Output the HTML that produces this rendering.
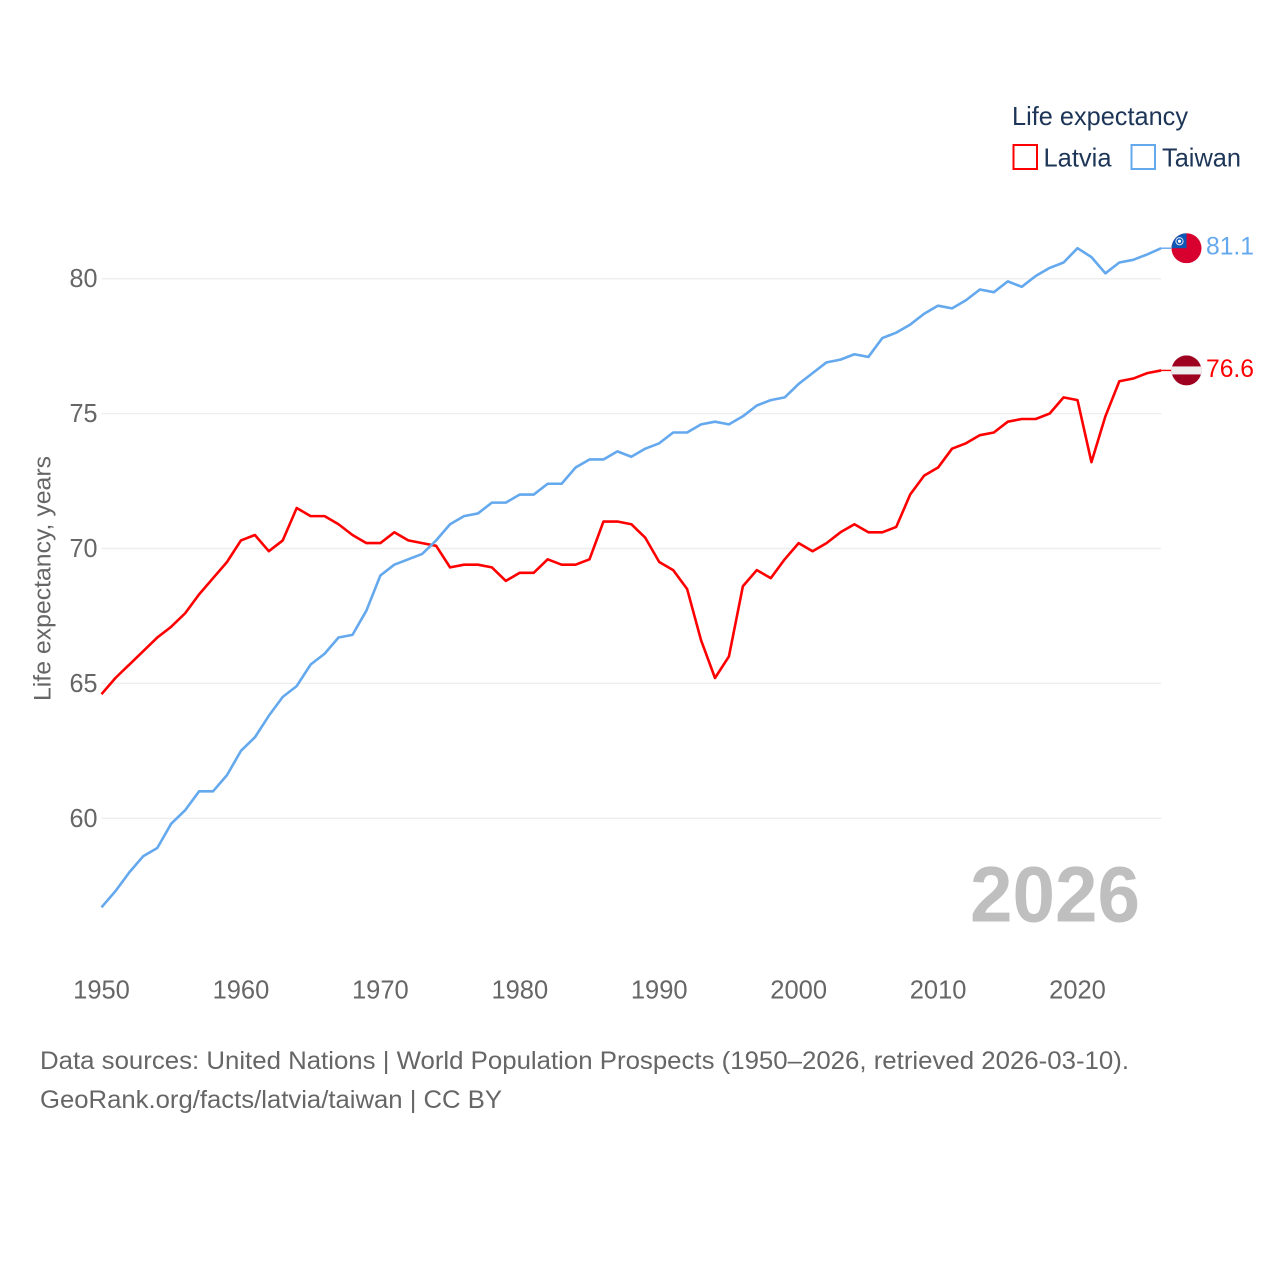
<!DOCTYPE html>
<html lang="en">
<head>
<meta charset="utf-8">
<title>Life expectancy: Latvia and Taiwan</title>
<style>
html,body{margin:0;padding:0;background:#fff;width:1280px;height:1280px;overflow:hidden}
svg{display:block;font-family:"Liberation Sans",sans-serif}
</style>
</head>
<body>
<svg id="chart" xmlns="http://www.w3.org/2000/svg" width="1280" height="1280" viewBox="0 0 1280 1280">
  <rect width="1280" height="1280" fill="#fff"/>
  <g id="grid"></g>
  <g id="yticks"></g>
  <g id="xticks"></g>
  <text transform="translate(50.5,701) rotate(-90)" font-size="24" fill="#666" textLength="245" lengthAdjust="spacingAndGlyphs">Life expectancy, years</text>

  <text x="970" y="921.5" font-size="79" font-weight="700" fill="#bfbfbf" textLength="170" lengthAdjust="spacingAndGlyphs">2026</text>

  <path id="line-latvia" fill="none" stroke="#ff0000" stroke-width="2.6" stroke-linejoin="round"/>
  <path id="line-taiwan" fill="none" stroke="#64a8ee" stroke-width="2.6" stroke-linejoin="round"/>
  <path id="lead-latvia" fill="none" stroke="#ff0000" stroke-width="1.4"/>
  <path id="lead-taiwan" fill="none" stroke="#64a8ee" stroke-width="1.4"/>

  <g id="flag-taiwan">
    <clipPath id="clip-tw"><circle cx="0" cy="0" r="15"/></clipPath>
    <g clip-path="url(#clip-tw)">
      <rect x="-15" y="-15" width="30" height="30" fill="#d7002f"/>
      <rect x="-15" y="-15" width="15" height="15" fill="#0f57b5"/>
      <circle cx="-7" cy="-7" r="3.6" fill="none" stroke="#dfe9f7" stroke-width="1"/>
      <circle cx="-7" cy="-7" r="1.6" fill="#fff"/>
    </g>
  </g>
  <g id="flag-latvia">
    <clipPath id="clip-lv"><circle cx="0" cy="0" r="15"/></clipPath>
    <g clip-path="url(#clip-lv)">
      <rect x="-15" y="-15" width="30" height="30" fill="#9e0020"/>
      <rect x="-15" y="-4" width="30" height="8" fill="#eee"/>
    </g>
  </g>
  <text id="value-taiwan" x="1206" font-size="25" fill="#64a8ee" textLength="48" lengthAdjust="spacingAndGlyphs"></text>
  <text id="value-latvia" x="1206" font-size="25" fill="#ff0000" textLength="48" lengthAdjust="spacingAndGlyphs"></text>

  <g>
    <text x="1012" y="125" font-size="26" fill="#1d3557" textLength="176" lengthAdjust="spacingAndGlyphs">Life expectancy</text>
    <g>
      <rect x="1013.5" y="145" width="23.5" height="24" fill="#fff" stroke="#ff0000" stroke-width="2"/>
      <text x="1043.5" y="166.5" font-size="26" fill="#1d3557" textLength="68" lengthAdjust="spacingAndGlyphs">Latvia</text>
    </g>
    <g>
      <rect x="1131.5" y="145" width="23.5" height="24" fill="#fff" stroke="#64a8ee" stroke-width="2"/>
      <text x="1162" y="166.5" font-size="26" fill="#1d3557" textLength="79" lengthAdjust="spacingAndGlyphs">Taiwan</text>
    </g>
  </g>

  <text x="40" y="1069" font-size="25" fill="#666" textLength="1089" lengthAdjust="spacingAndGlyphs">Data sources: United Nations | World Population Prospects (1950–2026, retrieved 2026-03-10).</text>
  <text x="40" y="1108" font-size="25" fill="#666" textLength="462" lengthAdjust="spacingAndGlyphs">GeoRank.org/facts/latvia/taiwan | CC BY</text>
</svg>
<script>
var startYear = 1950;
var latvia = [64.6,65.2,65.7,66.2,66.7,67.1,67.6,68.3,68.9,69.5,70.3,70.5,69.9,70.3,71.5,71.2,71.2,70.9,70.5,70.2,70.2,70.6,70.3,70.2,70.1,69.3,69.4,69.4,69.3,68.8,69.1,69.1,69.6,69.4,69.4,69.6,71.0,71.0,70.9,70.4,69.5,69.2,68.5,66.6,65.2,66.0,68.6,69.2,68.9,69.6,70.2,69.9,70.2,70.6,70.9,70.6,70.6,70.8,72.0,72.7,73.0,73.7,73.9,74.2,74.3,74.7,74.8,74.8,75.0,75.6,75.5,73.2,74.9,76.2,76.3,76.5,76.6];
var taiwan = [56.7,57.3,58.0,58.6,58.9,59.8,60.3,61.0,61.0,61.6,62.5,63.0,63.8,64.5,64.9,65.7,66.1,66.7,66.8,67.7,69.0,69.4,69.6,69.8,70.3,70.9,71.2,71.3,71.7,71.7,72.0,72.0,72.4,72.4,73.0,73.3,73.3,73.6,73.4,73.7,73.9,74.3,74.3,74.6,74.7,74.6,74.9,75.3,75.5,75.6,76.1,76.5,76.9,77.0,77.2,77.1,77.8,78.0,78.3,78.7,79.0,78.9,79.2,79.6,79.5,79.9,79.7,80.1,80.4,80.6,81.13,80.8,80.2,80.6,80.7,80.9,81.13];
var yTicks = [60,65,70,75,80];
var xTicks = [1950,1960,1970,1980,1990,2000,2010,2020];

var NS = 'http://www.w3.org/2000/svg';
function xScale(year){ return 101.5 + (year - 1950) * 13.943; }
function yScale(v){ return 818.3 - (v - 60) * 26.98; }

function linePath(values){
  var d = '';
  for (var i = 0; i < values.length; i++) {
    d += (i ? 'L' : 'M') + xScale(startYear + i).toFixed(2) + ' ' + yScale(values[i]).toFixed(2);
  }
  return d;
}

var gridG = document.getElementById('grid');
var yG = document.getElementById('yticks');
var xG = document.getElementById('xticks');
var lastYear = startYear + latvia.length - 1;

yTicks.forEach(function(t){
  var l = document.createElementNS(NS, 'line');
  
  
  l.setAttribute('x1', xScale(startYear));
  l.setAttribute('x2', xScale(lastYear));
  l.setAttribute('y1', yScale(t));
  l.setAttribute('y2', yScale(t));
  l.setAttribute('stroke', '#eeeeee');
  l.setAttribute('stroke-width', '1.4');
  gridG.appendChild(l);

  var s = document.createElementNS(NS, 'text');
  
  
  s.setAttribute('x', 97.5);
  s.setAttribute('y', yScale(t) + 8.5);
  s.setAttribute('text-anchor', 'end');
  s.setAttribute('font-size', '26');
  s.setAttribute('fill', '#666');
  s.setAttribute('textLength', '28');
  s.setAttribute('lengthAdjust', 'spacingAndGlyphs');
  s.textContent = t;
  yG.appendChild(s);
});

xTicks.forEach(function(t){
  var s = document.createElementNS(NS, 'text');
  
  
  s.setAttribute('x', xScale(t));
  s.setAttribute('y', 998.5);
  s.setAttribute('text-anchor', 'middle');
  s.setAttribute('font-size', '26');
  s.setAttribute('fill', '#666');
  s.setAttribute('textLength', '56.7');
  s.setAttribute('lengthAdjust', 'spacingAndGlyphs');
  s.textContent = t;
  xG.appendChild(s);
});

document.getElementById('line-latvia').setAttribute('d', linePath(latvia));
document.getElementById('line-taiwan').setAttribute('d', linePath(taiwan));

var endL = yScale(latvia[latvia.length - 1]);
var endT = yScale(taiwan[taiwan.length - 1]);
var endX = xScale(lastYear);
document.getElementById('lead-latvia').setAttribute('d', 'M' + endX + ' ' + endL + 'H' + (endX + 10));
document.getElementById('lead-taiwan').setAttribute('d', 'M' + endX + ' ' + endT + 'H' + (endX + 10));
document.getElementById('flag-latvia').setAttribute('transform', 'translate(1186.5,' + endL + ')');
document.getElementById('flag-taiwan').setAttribute('transform', 'translate(1186.5,' + endT + ')');

var vL = document.getElementById('value-latvia');
vL.setAttribute('y', endL + 6.5);
vL.textContent = latvia[latvia.length - 1].toFixed(1);
var vT = document.getElementById('value-taiwan');
vT.setAttribute('y', endT + 6.5);
vT.textContent = taiwan[taiwan.length - 1].toFixed(1);
</script>
</body>
</html>
